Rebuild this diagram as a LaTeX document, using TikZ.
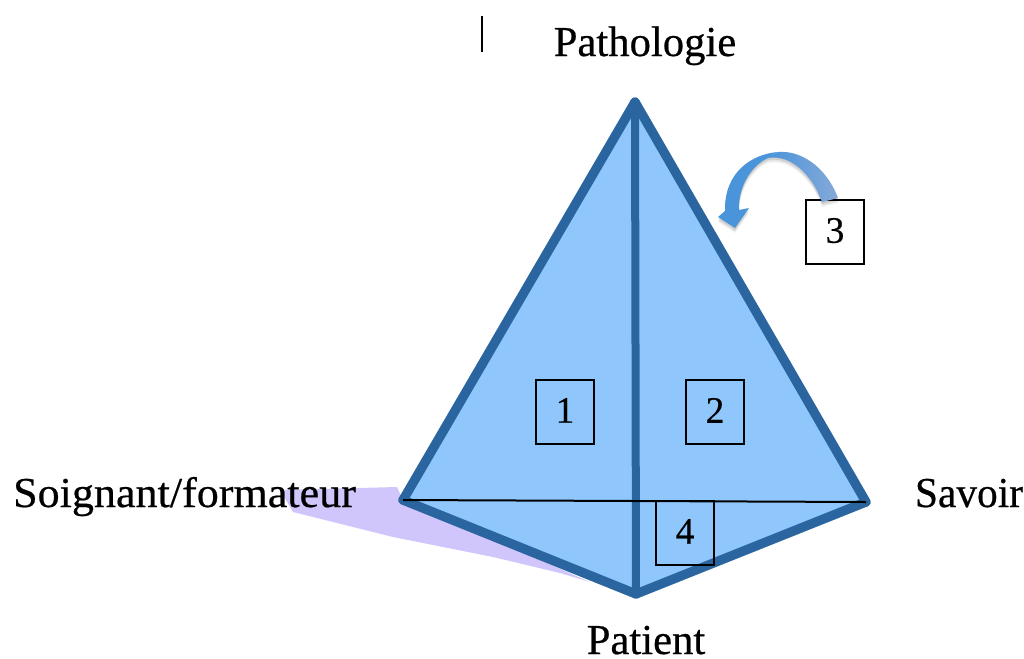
\documentclass[tikz,border=0pt]{standalone}
\usepackage{fontspec}
\setmainfont[RawFeature={embolden=0.5}]{Liberation Serif}
\definecolor{fillblue}{HTML}{8FC7FD}
\definecolor{edgeblue}{HTML}{2A659F}
\definecolor{lilac}{HTML}{D0C6FC}
\definecolor{arrowA}{HTML}{4A94DA}
\definecolor{arrowB}{HTML}{86A9D8}
\newcommand{\numtxt}[1]{\raisebox{2.4pt}{#1}}
\tikzset{
  lbl/.style={font=\fontsize{32}{34}\selectfont,text=black,inner sep=0pt,anchor=base},
  numbox/.style={draw=black,line width=1.1pt,minimum width=43.5pt,minimum height=48pt,inner sep=0pt,font=\fontsize{28}{30}\selectfont},
  edge/.style={draw=edgeblue,line width=7pt,line join=round,line cap=round},
  spine/.style={draw=edgeblue,line width=6pt,line cap=round}
}
\begin{document}
\begin{tikzpicture}[x=0.75pt,y=-0.75pt]
\useasboundingbox (0,0) rectangle (1024,658);
\coordinate (A) at (635,102);
\coordinate (L) at (403,500);
\coordinate (R) at (866,502);
\coordinate (B) at (636,594);
% lilac wedge
\fill[lilac] (280,490) -- (397,487) -- (L) -- (590,582) -- (560,573) -- (493,557) -- (393,537) -- (293,512) -- cycle;
% faces
\fill[fillblue] (A) -- (L) -- (B) -- (R) -- cycle;
% labels
\node[lbl] (pathologie) at (645,56) {Pathologie};
\node[lbl,xscale=1.033] (soignant) at (184.5,507) {Soignant/formateur};
\node[lbl,xscale=0.97] (savoir) at (969,507) {Savoir};
\node[lbl] (patient) at (646,654) {Patient};
% edges
\draw[edge] (A) -- (L);
\draw[edge] (A) -- (R);
\draw[edge] (L) -- (B);
\draw[edge] (R) -- (B);
\draw[spine] (A) -- (B);
\draw[black,line width=1.5pt] (L) -- (R);
% boxes
\node[numbox] (n1) at (565,412) {\numtxt{1}};
\node[numbox] (n2) at (715,412) {\numtxt{2}};
\node[numbox] (n3) at (835,232) {\numtxt{3}};
\node[numbox] (n4) at (685,533) {\numtxt{4}};
% caret
\coordinate (c1) at (482,16);
\coordinate (c2) at (482,52);
\draw[black,line width=1pt] (c1) -- (c2);
% curved arrow shadow
\foreach \d/\o in {5/0.05,3.5/0.07,2/0.09}{
\fill[black,opacity=\o,yshift=-\d*0.75pt]
  (838,198) .. controls (826,166) and (800,150) .. (778,152)
  .. controls (752,154) and (724,172) .. (725,211)
  -- (718,217) -- (735,228) -- (749,208) -- (739,210)
  .. controls (738,186) and (752,165) .. (768,158)
  .. controls (790,154) and (812,174) .. (822,202) -- cycle;
}
% curved arrow
\shade[left color=arrowA,right color=arrowB]
  (838,198) .. controls (826,166) and (800,150) .. (778,152)
  .. controls (774,153) and (771,155) .. (768,158)
  .. controls (790,154) and (812,174) .. (822,202) -- cycle;
\fill[arrowA]
  (778,152) .. controls (752,154) and (724,172) .. (725,211)
  -- (718,217) -- (735,228) -- (749,208) -- (739,210)
  .. controls (738,186) and (752,165) .. (768,158)
  .. controls (771,155) and (774,153) .. (778,152) -- cycle;
\end{tikzpicture}
\end{document}
